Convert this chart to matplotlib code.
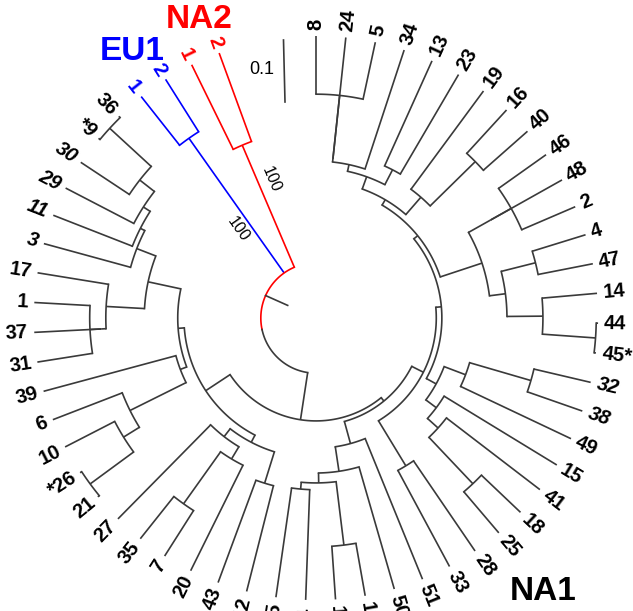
import numpy as np
import matplotlib
matplotlib.use("Agg")
import matplotlib.pyplot as plt

# ---------------- data ----------------
# tips in circular order (clockwise from top)
tip_ids = ["8", "24", "5", "34", "13", "23", "19", "16", "40", "46", "48", "2", "4", "47",
           "14", "44", "45", "32", "38", "49", "15", "41", "18", "25", "28", "33", "51", "50",
           "D", "C", "B", "A", "X2", "43", "20", "7", "35", "27", "21", "26", "10", "6", "39",
           "31", "37", "1", "17", "3", "11", "29", "30", "9", "36",
           "EU1-1", "EU1-2", "NA2-1", "NA2-2"]
tip_text = ["8", "24", "5", "34", "13", "23", "19", "16", "40", "46", "48", "2", "4", "47",
            "14", "44", "45*", "32", "38", "49", "15", "41", "18", "25", "28", "33", "51", "50",
            "17", "15", "14", "45", "12", "43", "20", "7", "35", "27", "21", "*26", "10", "6", "39",
            "31", "37", "1", "17", "3", "11", "29", "30", "*9", "36",
            "1", "2", "1", "2"]
italic_tips = ["3", "11", "29", "30", "9", "32", "38"]
group_of_tip = {"EU1-1": "EU1", "EU1-2": "EU1", "NA2-1": "NA2", "NA2-2": "NA2"}

# internal nodes: name, children, distance from centre (tree units, 0.1 = scale bar)
node_names = ["n8_5", "n24", "n34", "n13_23", "n5", "n16_40", "n19", "n8",
              "n46_2", "n48", "n4_47", "n44_45", "n14", "g", "n11", "T",
              "n32_38", "n16", "n18_25", "n19b", "n20", "n17", "P", "n28_33", "Q",
              "nAB", "nCD", "n24b", "n23", "n22", "Bot2",
              "n9_36", "n32", "n33", "n34b", "n35", "n1_31", "n37x", "n37", "n36",
              "n21_26", "n28", "n29", "n30", "L",
              "n35_7", "n7_20", "n27", "n43", "BL", "LeftBig", "Bot1",
              "EU1", "NA2", "root"]
node_children = [["8", "5"], ["n8_5", "24"], ["n24", "34"], ["13", "23"], ["n34", "n13_23"],
                  ["16", "40"], ["19", "n16_40"], ["n5", "n19"],
                  ["46", "2"], ["n46_2", "48"], ["4", "47"], ["44", "45"], ["14", "n44_45"],
                  ["n4_47", "n14"], ["n48", "g"], ["n8", "n11"],
                  ["32", "38"], ["n32_38", "49"], ["18", "25"], ["41", "n18_25"], ["15", "n19b"],
                  ["n16", "n20"], ["T", "n17"], ["28", "33"], ["P", "n28_33"],
                  ["A", "B"], ["C", "D"], ["nAB", "nCD"], ["n24b", "50"], ["n23", "51"],
                  ["n22", "Q"],
                  ["9", "36"], ["30", "n9_36"], ["29", "n32"], ["11", "n33"], ["3", "n34b"],
                  ["1", "31"], ["n1_31", "37"], ["17", "n37x"], ["n35", "n37"],
                  ["21", "26"], ["10", "n21_26"], ["6", "n28"], ["39", "n29"], ["n36", "n30"],
                  ["35", "7"], ["n35_7", "20"], ["27", "n7_20"], ["43", "X2"], ["n27", "n43"],
                  ["L", "BL"], ["LeftBig", "Bot2"],
                  ["EU1-1", "EU1-2"], ["NA2-1", "NA2-2"], ["NA2", "EU1", "Bot1"]]
node_dist = [0.361, 0.258, 0.253, 0.269, 0.242, 0.360, 0.258, 0.221,
             0.361, 0.323, 0.365, 0.452, 0.366, 0.308, 0.282, 0.211,
             0.361, 0.258, 0.368, 0.265, 0.242, 0.221, 0.203, 0.279, 0.194,
             0.277, 0.369, 0.266, 0.250, 0.210, 0.173,
             0.452, 0.361, 0.331, 0.318, 0.310, 0.365, 0.347, 0.339, 0.277,
             0.452, 0.365, 0.335, 0.234, 0.223,
             0.368, 0.265, 0.242, 0.279, 0.226, 0.213, 0.166,
             0.355, 0.303, 0.089]
tip_dist = 0.455
root_edge = 0.039
scale_len = 0.1

# ---------------- layout ----------------
PX = 620.0                 # pixels per tree unit
CX, CY = 316.0, 318.0      # centre of the fan (pixels)
START, STEP = 90.0, 6.07   # angle of first tip and spacing (degrees, clockwise)
SPLIT_ANGLE = -168.0       # where the root arc changes from red to black
ROOT_EDGE_ANGLE = -204.0
LINE = "#3a3a3a"
RED, BLUE = "#ff0000", "#0000ff"
FONT = "Liberation Sans"

ang = {t: START - i * STEP for i, t in enumerate(tip_ids)}
rad = {t: tip_dist for t in tip_ids}
children = dict(zip(node_names, node_children))
for n, d in zip(node_names, node_dist):
    rad[n] = d


def angle_of(n):
    if n in ang:
        return ang[n]
    a = [angle_of(c) for c in children[n]]
    ang[n] = (min(a) + max(a)) / 2.0
    return ang[n]


for n in node_names:
    angle_of(n)


def colour_of(n):
    if n in group_of_tip:
        return RED if group_of_tip[n] == "NA2" else BLUE
    if n == "EU1":
        return BLUE
    if n == "NA2":
        return RED
    if n in children and n != "root":
        cs = {colour_of(c) for c in children[n]}
        if len(cs) == 1:
            return cs.pop()
    return LINE


def xy(r, a):
    t = np.deg2rad(a)
    return CX + r * PX * np.cos(t), CY - r * PX * np.sin(t)


fig = plt.figure(figsize=(6.33, 6.11), dpi=100)
ax = fig.add_axes([0, 0, 1, 1])
ax.set_xlim(0, 633)
ax.set_ylim(611, 0)
ax.set_aspect("equal")
ax.axis("off")

lw = 1.2
for n in node_names:
    r0 = rad[n]
    kids = children[n]
    for c in kids:
        col = colour_of(c)
        p0, p1 = xy(r0, ang[c]), xy(rad[c], ang[c])
        ax.plot([p0[0], p1[0]], [p0[1], p1[1]], color=col, lw=lw, solid_capstyle="butt")
    if n == "root":
        continue
    a_min = min(ang[c] for c in kids)
    a_max = max(ang[c] for c in kids)
    aa = np.linspace(a_min, a_max, 60)
    px, py = xy(r0, aa)
    ax.plot(px, py, color=colour_of(n), lw=lw)

# root arc: red part for the NA2/EU1 side, black for the rest; root edge
aa = np.linspace(ang["NA2"], SPLIT_ANGLE, 80)
px, py = xy(rad["root"], aa)
ax.plot(px, py, color=RED, lw=lw)
aa = np.linspace(SPLIT_ANGLE, ang["Bot1"], 80)
px, py = xy(rad["root"], aa)
ax.plot(px, py, color=LINE, lw=lw)
p0, p1 = xy(rad["root"], ROOT_EDGE_ANGLE), xy(rad["root"] - root_edge, ROOT_EDGE_ANGLE)
ax.plot([p0[0], p1[0]], [p0[1], p1[1]], color=LINE, lw=lw)

# tip labels
for t, txt in zip(tip_ids, tip_text):
    a = ang[t] % 360
    x, y = xy(tip_dist + 0.010, a)
    if 90 < a < 270:
        rot, ha = a - 180, "right"
    else:
        rot, ha = (a if a <= 90 else a - 360), "left"
    col = colour_of(t)
    if col == LINE:
        col = "black"
    ax.text(x, y, txt, rotation=rot, ha=ha, va="center", rotation_mode="anchor",
            fontsize=14.5, fontweight="bold", color=col, family=FONT,
            style="italic" if t in italic_tips else "normal")

# bootstrap values
for g, off, rr in (("NA2", -5.0, 0.235), ("EU1", 6.0, 0.19)):
    a = ang[g] + off
    x, y = xy(rr, a)
    ax.text(x, y, "100", rotation=(ang[g] % 360) - 180, ha="center", va="center",
            rotation_mode="anchor", fontsize=11.5, family=FONT, color="black")

# group labels
ax.text(199, 19, "NA2", color=RED, fontsize=24, fontweight="bold", family=FONT,
        ha="center", va="center")
ax.text(132, 51, "EU1", color=BLUE, fontsize=24, fontweight="bold", family=FONT,
        ha="center", va="center")
ax.text(543, 592, "NA1", color="black", fontsize=24, fontweight="bold", family=FONT,
        ha="center", va="center")

# scale bar
bx = 283.5
ax.plot([bx, bx + 1.5], [40, 40 + scale_len * PX], color=LINE, lw=lw)
ax.text(bx - 9, 70, "0.1", ha="right", va="center", fontsize=13, family=FONT)

fig.savefig("out.png", dpi=100)
